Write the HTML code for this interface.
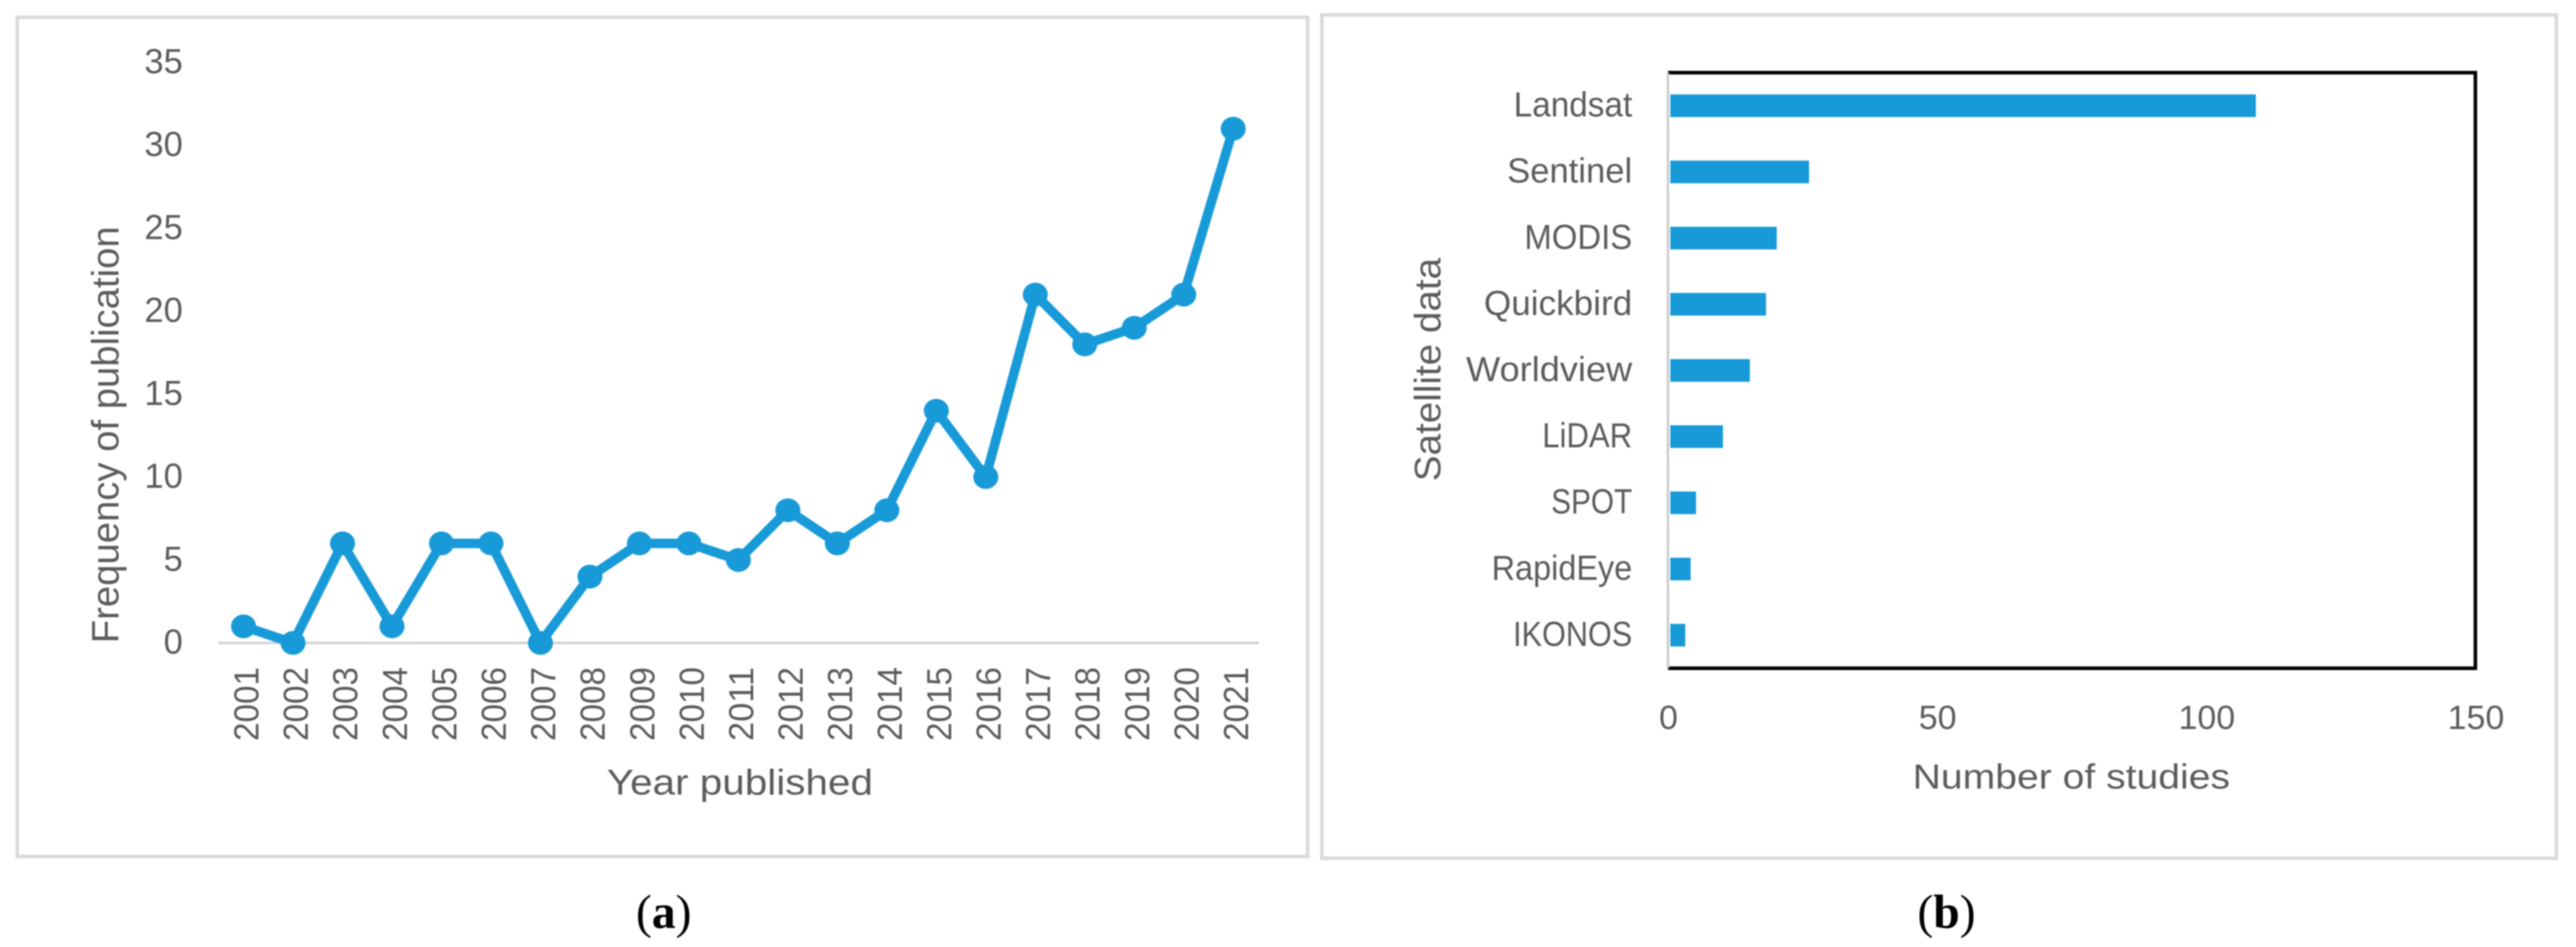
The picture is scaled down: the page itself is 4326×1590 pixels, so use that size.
<!DOCTYPE html>
<html lang="en">
<head>
<meta charset="utf-8">
<title>Publication frequency and satellite data</title>
<style>
html,body{margin:0;padding:0;background:#fff;width:4326px;height:1590px;overflow:hidden}
svg{display:block;filter:blur(1px)}
text{font-family:"Liberation Sans",sans-serif;fill:#5c5c5c}
.cap{font-family:"Liberation Serif",serif;fill:#000;font-size:80px}
</style>
</head>
<body>
<svg id="fig" xmlns="http://www.w3.org/2000/svg" width="4326" height="1590" viewBox="0 0 4326 1590">
  <rect x="0" y="0" width="4326" height="1590" fill="#fff"/>
  <rect x="29" y="29" width="2167" height="1409" fill="#fff" stroke="#dadada" stroke-width="6"/>
  <rect x="2220" y="25" width="2073" height="1416" fill="#fff" stroke="#dadada" stroke-width="6"/>
  <g id="chartA"></g>
  <g id="chartB"></g>
  <text class="cap" x="1068" y="1558">(<tspan font-weight="bold">a</tspan>)</text>
  <text class="cap" x="3220" y="1558">(<tspan font-weight="bold">b</tspan>)</text>
</svg>
<script>
const years = ["2001","2002","2003","2004","2005","2006","2007","2008","2009","2010","2011","2012","2013","2014","2015","2016","2017","2018","2019","2020","2021"];
const publications = [1,0,6,1,6,6,0,4,6,6,5,8,6,8,14,10,21,18,19,21,31];
const freqTicks = [0,5,10,15,20,25,30,35];

const satellites = ["Landsat","Sentinel","MODIS","Quickbird","Worldview","LiDAR","SPOT","RapidEye","IKONOS"];
const studies = [109,26,20,18,15,10,5,4,3];
const studyTicks = [0,50,100,150];

const NS = "http://www.w3.org/2000/svg";
const BLUE = "#189ad8";
const LABEL_FIT = {Landsat:199,Sentinel:210,MODIS:181,Quickbird:249,Worldview:279,LiDAR:151,SPOT:136,RapidEye:236,IKONOS:200};
function make(parent, tag, attrs, txt){
  const el = document.createElementNS(NS, tag);
  for (const k in attrs) el.setAttribute(k, attrs[k]);
  if (txt !== undefined) el.textContent = txt;
  parent.appendChild(el);
  return el;
}

/* ---------- Chart A: line ---------- */
const gA = document.getElementById("chartA");
const xA = i => 409 + i * (2071 - 409) / (years.length - 1);
const yA = v => 1079.5 - v * 27.85;

const axisA = make(gA, "line", {x1:366, x2:2114, y1:yA(0), y2:yA(0), stroke:"#d0d0d0", "stroke-width":4});



freqTicks.forEach(t => {
  const el = make(gA, "text", {x:307, y:yA(t)+18, "text-anchor":"end", "font-size":58}, String(t));
  
  
});

years.forEach((yr, i) => {
  const px = xA(i) + 25;
  const el = make(gA, "text", {x:px, y:1120, "text-anchor":"end", "font-size":58, textLength:124, lengthAdjust:"spacingAndGlyphs", transform:"rotate(-90 "+px+" 1120)"}, yr);
  
  
});

const line = make(gA, "polyline", {points:publications.map((v,i)=>xA(i)+","+yA(v)).join(" "), fill:"none", stroke:BLUE, "stroke-width":16, "stroke-linejoin":"round"});



publications.forEach((v, i) => {
  const el = make(gA, "ellipse", {cx:xA(i), cy:yA(v), rx:21, ry:20, fill:BLUE});
  
  
});

const ytA = make(gA, "text", {x:199, y:1080, "font-size":64, textLength:700, lengthAdjust:"spacingAndGlyphs", transform:"rotate(-90 199 1080)"}, "Frequency of publication");



const xtA = make(gA, "text", {x:1019, y:1334, "font-size":60, textLength:447, lengthAdjust:"spacingAndGlyphs"}, "Year published");



/* ---------- Chart B: horizontal bars ---------- */
const gB = document.getElementById("chartB");
const xB = v => 2801 + v * (4157 - 2801) / 150;
const band = 1000 / satellites.length;
const yB = i => 122 + band * (i + 0.5);

satellites.forEach((name, i) => {
  const bar = make(gB, "rect", {x:xB(0)+4, y:yB(i)-19, width:xB(studies[i])-xB(0)-2, height:38, fill:BLUE});
  
  
  const lab = make(gB, "text", {x:2741, y:yB(i)+18, "text-anchor":"end", "font-size":58, textLength:LABEL_FIT[name], lengthAdjust:"spacingAndGlyphs"}, name);
  
  
});

const frame = make(gB, "polyline", {points:[xB(0),122,xB(150),122,xB(150),1122,xB(0),1122].join(" "), fill:"none", stroke:"#000", "stroke-width":6});



const axisB = make(gB, "line", {x1:xB(0), x2:xB(0), y1:122, y2:1122, stroke:"#cccccc", "stroke-width":4});



studyTicks.forEach(t => {
  const el = make(gB, "text", {x:xB(t)+1, y:1224, "text-anchor":"middle", "font-size":57}, String(t));
  
  
});

const ytB = make(gB, "text", {x:2419, y:808, "font-size":62, textLength:375, lengthAdjust:"spacingAndGlyphs", transform:"rotate(-90 2419 808)"}, "Satellite data");



const xtB = make(gB, "text", {x:3212, y:1324, "font-size":58, textLength:533, lengthAdjust:"spacingAndGlyphs"}, "Number of studies");


</script>
</body>
</html>
